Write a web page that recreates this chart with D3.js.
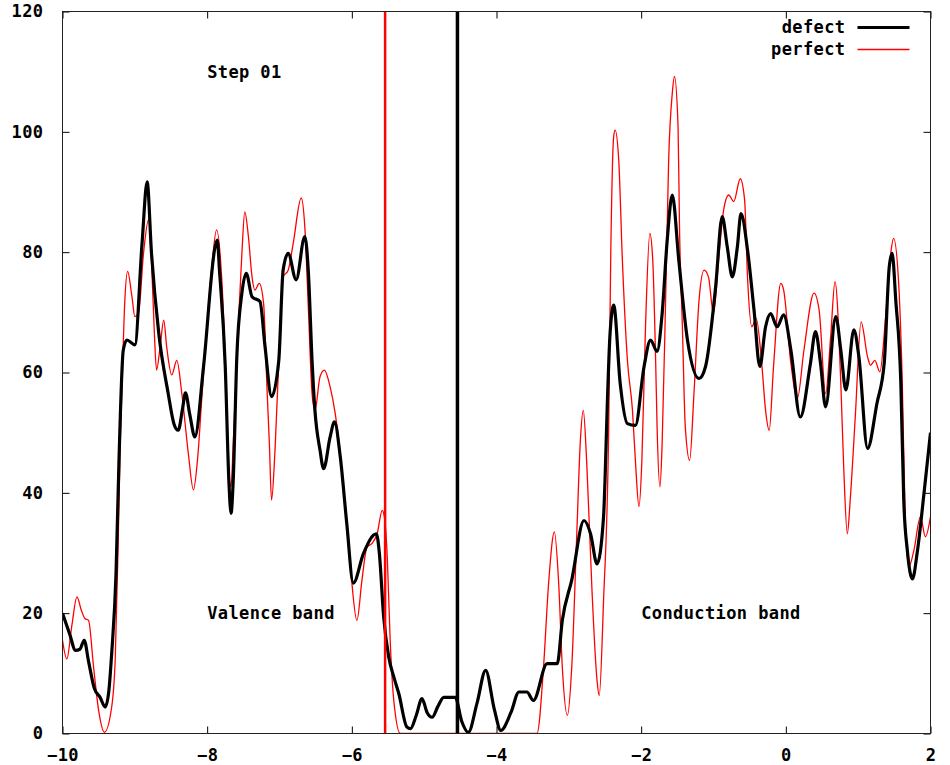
<!DOCTYPE html>
<html>
<head>
<meta charset="utf-8">
<script src="https://cdn.jsdelivr.net/npm/d3@7"></script>
<style>
  html, body { margin: 0; padding: 0; background: #fff; }
  svg text { font-family: "DejaVu Sans Mono", "Liberation Mono", monospace; font-weight: bold; font-size: 17px; letter-spacing: 0.4px; fill: #000; }
</style>
</head>
<body>
<svg id="chart" width="950" height="765"></svg>
<script>
// Density of states, step 01: defect vs perfect cell (energy in eV)
const energyDefect = [-10.00,-9.90,-9.82,-9.76,-9.70,-9.64,-9.56,-9.48,-9.41,-9.36,-9.32,-9.26,-9.22,-9.16,-9.11,-9.00,-8.90,-8.83,-8.77,-8.67,-8.54,-8.46,-8.40,-8.34,-8.30,-8.24,-8.17,-8.05,-7.89,-7.86,-7.83,-7.75,-7.70,-7.67,-7.64,-7.59,-7.52,-7.46,-7.38,-7.27,-7.20,-7.11,-7.01,-6.95,-6.88,-6.77,-6.65,-6.60,-6.55,-6.51,-6.44,-6.39,-6.30,-6.24,-6.16,-6.07,-5.98,-5.84,-5.70,-5.66,-5.62,-5.56,-5.49,-5.42,-5.35,-5.24,-5.19,-5.11,-5.03,-4.96,-4.89,-4.81,-4.73,-4.57,-4.48,-4.39,-4.27,-4.15,-4.03,-3.94,-3.80,-3.69,-3.58,-3.49,-3.30,-3.16,-3.09,-2.96,-2.79,-2.70,-2.61,-2.52,-2.50,-2.47,-2.43,-2.38,-2.29,-2.19,-2.08,-1.96,-1.87,-1.78,-1.71,-1.64,-1.57,-1.48,-1.36,-1.20,-1.11,-0.97,-0.88,-0.81,-0.74,-0.67,-0.62,-0.53,-0.44,-0.36,-0.28,-0.21,-0.12,-0.03,0.07,0.20,0.34,0.41,0.48,0.55,0.69,0.76,0.83,0.94,1.01,1.13,1.26,1.36,1.43,1.47,1.52,1.59,1.63,1.68,1.75,1.82,1.91,2.00];
const dosDefect = [20.0,16.5,13.8,14.0,15.5,12.0,7.5,6.0,4.4,7.0,13.3,26.6,45.0,63.7,65.4,64.6,81.5,91.7,79.9,66.6,56.6,51.5,50.4,54.0,56.6,53.0,49.3,61.0,80.9,82.0,77.0,61.0,42.0,36.6,42.0,62.6,73.2,76.5,72.6,71.8,64.3,56.0,62.0,77.0,79.8,75.4,82.6,76.5,62.0,53.7,47.1,44.0,49.3,51.8,46.0,34.9,25.0,29.9,33.0,33.2,30.0,19.4,12.7,9.4,6.6,1.1,0.8,3.0,5.8,3.5,2.7,4.5,6.0,6.0,2.0,0.2,5.0,10.5,4.0,0.5,3.5,6.9,6.9,5.5,11.6,11.6,18.8,25.5,35.4,33.2,28.2,36.0,42.0,54.0,66.5,71.2,58.2,51.5,51.2,61.0,65.4,63.5,69.8,82.0,89.5,78.7,65.4,59.0,61.0,74.3,85.9,80.9,75.9,80.9,86.4,80.4,70.4,61.0,67.6,69.8,67.6,69.6,63.7,52.6,61.5,66.8,61.5,54.3,69.3,63.7,57.1,67.1,62.6,47.4,54.9,61.5,77.6,79.8,72.0,58.2,38.8,30.4,25.7,30.4,39.9,50.0];

const energyPerfect = [-10.00,-9.94,-9.87,-9.80,-9.74,-9.69,-9.64,-9.57,-9.50,-9.42,-9.32,-9.27,-9.23,-9.20,-9.18,-9.14,-9.10,-9.04,-9.00,-8.95,-8.88,-8.81,-8.77,-8.73,-8.70,-8.65,-8.60,-8.56,-8.49,-8.42,-8.35,-8.26,-8.19,-8.13,-8.07,-7.94,-7.87,-7.80,-7.75,-7.71,-7.67,-7.64,-7.57,-7.52,-7.48,-7.43,-7.38,-7.34,-7.28,-7.22,-7.17,-7.14,-7.11,-7.06,-6.99,-6.95,-6.88,-6.81,-6.70,-6.65,-6.60,-6.55,-6.51,-6.44,-6.38,-6.30,-6.23,-6.16,-6.12,-6.02,-5.93,-5.86,-5.79,-5.72,-5.65,-5.58,-5.55,-5.51,-5.47,-5.42,-5.33,-3.44,-3.35,-3.28,-3.20,-3.14,-3.09,-3.02,-2.96,-2.89,-2.84,-2.80,-2.75,-2.68,-2.61,-2.58,-2.52,-2.45,-2.42,-2.38,-2.36,-2.31,-2.26,-2.19,-2.12,-2.08,-2.03,-1.99,-1.94,-1.88,-1.84,-1.80,-1.78,-1.74,-1.71,-1.66,-1.62,-1.57,-1.54,-1.49,-1.47,-1.43,-1.39,-1.33,-1.27,-1.20,-1.13,-1.07,-1.00,-0.93,-0.86,-0.79,-0.72,-0.63,-0.57,-0.53,-0.47,-0.41,-0.33,-0.28,-0.23,-0.17,-0.07,-0.03,0.07,0.16,0.25,0.39,0.46,0.55,0.62,0.68,0.76,0.80,0.85,0.89,0.96,1.04,1.13,1.17,1.23,1.30,1.38,1.45,1.49,1.56,1.61,1.65,1.70,1.77,1.86,1.93,2.00];
const dosPerfect = [15.5,12.4,18.0,22.7,20.5,19.1,18.8,11.0,3.8,0.2,4.4,12.7,32.0,48.8,56.5,71.5,76.8,72.6,69.3,69.8,79.8,85.4,78.7,66.5,60.4,64.3,68.7,64.3,59.6,62.0,56.5,46.5,40.5,46.0,56.5,77.0,83.7,75.9,62.0,45.4,41.0,48.2,67.6,79.8,86.7,82.6,75.9,73.7,74.8,71.5,56.5,48.2,38.8,47.6,67.6,75.9,77.0,81.5,89.0,84.2,70.4,56.5,53.7,59.3,60.4,57.6,53.2,46.5,41.5,27.7,18.8,25.5,31.0,31.6,33.2,37.1,36.0,29.3,15.5,5.5,0.0,0.0,11.0,24.9,33.5,24.9,11.0,3.0,11.0,33.2,48.8,53.7,44.3,23.8,8.8,6.3,22.1,49.9,80.0,99.2,100.3,95.3,78.7,62.0,53.7,45.4,37.7,45.4,67.6,83.1,78.7,62.0,51.0,41.0,48.2,73.2,95.3,106.4,109.2,100.9,84.2,67.6,51.0,45.4,56.5,72.0,77.0,75.9,69.8,78.7,87.0,89.5,88.4,92.2,88.7,75.9,67.6,69.0,61.0,53.7,50.4,61.0,74.8,73.7,61.5,55.7,63.7,73.2,70.4,56.5,66.0,75.1,58.2,44.3,33.2,38.8,52.6,68.4,62.6,61.2,62.0,60.1,69.3,79.8,82.3,74.8,58.2,36.0,27.7,30.4,36.0,32.7,36.0];

// Fermi levels of each cell
const fermiLevels = [
  { name: "perfect", energy: -5.54 },
  { name: "defect", energy: -4.54 }
];

const xTicks = [-10, -8, -6, -4, -2, 0, 2];
const yTicks = [0, 20, 40, 60, 80, 100, 120];

const annotations = [
  { text: "Step 01", x: -8, y: 110 },
  { text: "Valence band", x: -8, y: 20 },
  { text: "Conduction band", x: -2, y: 20 }
];

const seriesNames = ["defect", "perfect"];
const seriesColors = { defect: "#000000", perfect: "#ff0000" };
const seriesWidths = { defect: 3.2, perfect: 1.3 };

const series = [
  { name: "defect", values: energyDefect.map((e, i) => [e, dosDefect[i]]) },
  { name: "perfect", values: energyPerfect.map((e, i) => [e, dosPerfect[i]]) }
];

const svg = d3.select("#chart");
svg.append("rect").attr("width", 950).attr("height", 765).attr("fill", "#fff");

const plotLeft = 62.5, plotRight = 930.5, plotTop = 11.5, plotBottom = 733.5;
const x = d3.scaleLinear().domain([-10, 2]).range([plotLeft, plotRight]);
const y = d3.scaleLinear().domain([0, 120]).range([plotBottom, plotTop]);

const plot = svg.append("g");
plot.append("clipPath").attr("id", "clip")
  .append("rect").attr("x", plotLeft).attr("y", plotTop)
  .attr("width", plotRight - plotLeft).attr("height", plotBottom - plotTop);

const line = d3.line()
  .x(d => x(d[0]))
  .y(d => y(d[1]))
  .curve(d3.curveMonotoneX);

const marks = plot.append("g").attr("clip-path", "url(#clip)");

// perfect curve beneath, defect curve on top
["perfect", "defect"].forEach(name => {
  const s = series.find(d => d.name === name);
  marks.append("path")
    .datum(s.values)
    .attr("fill", "none")
    .attr("stroke", seriesColors[name])
    .attr("stroke-width", seriesWidths[name])
    .attr("stroke-linejoin", "round")
    .attr("d", line);
});

// Fermi level markers
marks.selectAll("line.fermi")
  .data(fermiLevels)
  .join("line")
  .attr("class", "fermi")
  .attr("x1", d => x(d.energy)).attr("x2", d => x(d.energy))
  .attr("y1", plotTop).attr("y2", plotBottom)
  .attr("stroke", d => seriesColors[d.name])
  .attr("stroke-width", d => d.name === "defect" ? 3.5 : 2.5);

// Axes with inward ticks on all four sides
const tickLen = 7;
const axisStyle = g => {
  g.select(".domain").remove();
  g.selectAll(".tick line").attr("stroke", "#000").attr("stroke-width", 1);
  g.selectAll(".tick text").attr("fill", "#000");
  g.attr("font-family", null).attr("font-size", null);
};

svg.append("g").attr("transform", `translate(0,${plotBottom})`)
  .call(d3.axisBottom(x).tickValues(xTicks).tickFormat(d3.format("d")).tickSizeInner(-tickLen).tickSizeOuter(0).tickPadding(15))
  .call(axisStyle);
svg.append("g").attr("transform", `translate(0,${plotTop})`)
  .call(d3.axisTop(x).tickValues(xTicks).tickFormat("").tickSizeInner(-tickLen).tickSizeOuter(0))
  .call(axisStyle);
svg.append("g").attr("transform", `translate(${plotLeft},0)`)
  .call(d3.axisLeft(y).tickValues(yTicks).tickFormat(d3.format("d")).tickSizeInner(-tickLen).tickSizeOuter(0).tickPadding(19))
  .call(axisStyle);
svg.append("g").attr("transform", `translate(${plotRight},0)`)
  .call(d3.axisRight(y).tickValues(yTicks).tickFormat("").tickSizeInner(-tickLen).tickSizeOuter(0))
  .call(axisStyle);

// Frame
svg.append("rect")
  .attr("x", plotLeft).attr("y", plotTop)
  .attr("width", plotRight - plotLeft).attr("height", plotBottom - plotTop)
  .attr("fill", "none").attr("stroke", "#222").attr("stroke-width", 1);

// Text labels placed in data coordinates
svg.selectAll("text.annot")
  .data(annotations)
  .join("text")
  .attr("class", "annot")
  .attr("x", d => x(d.x))
  .attr("y", d => y(d.y))
  .attr("dy", "0.35em")
  .text(d => d.text);

// Legend, top right
const legend = svg.append("g").attr("transform", `translate(${plotRight - 85},${plotTop + 16})`);
seriesNames.forEach((name, i) => {
  const row = legend.append("g").attr("transform", `translate(0,${i * 22})`);
  row.append("text").attr("x", 0).attr("y", 0).attr("dy", "0.35em")
    .attr("text-anchor", "end").text(name);
  row.append("line").attr("x1", 12).attr("x2", 64).attr("y1", 0).attr("y2", 0)
    .attr("stroke", seriesColors[name]).attr("stroke-width", seriesWidths[name]);
});
</script>
</body>
</html>
